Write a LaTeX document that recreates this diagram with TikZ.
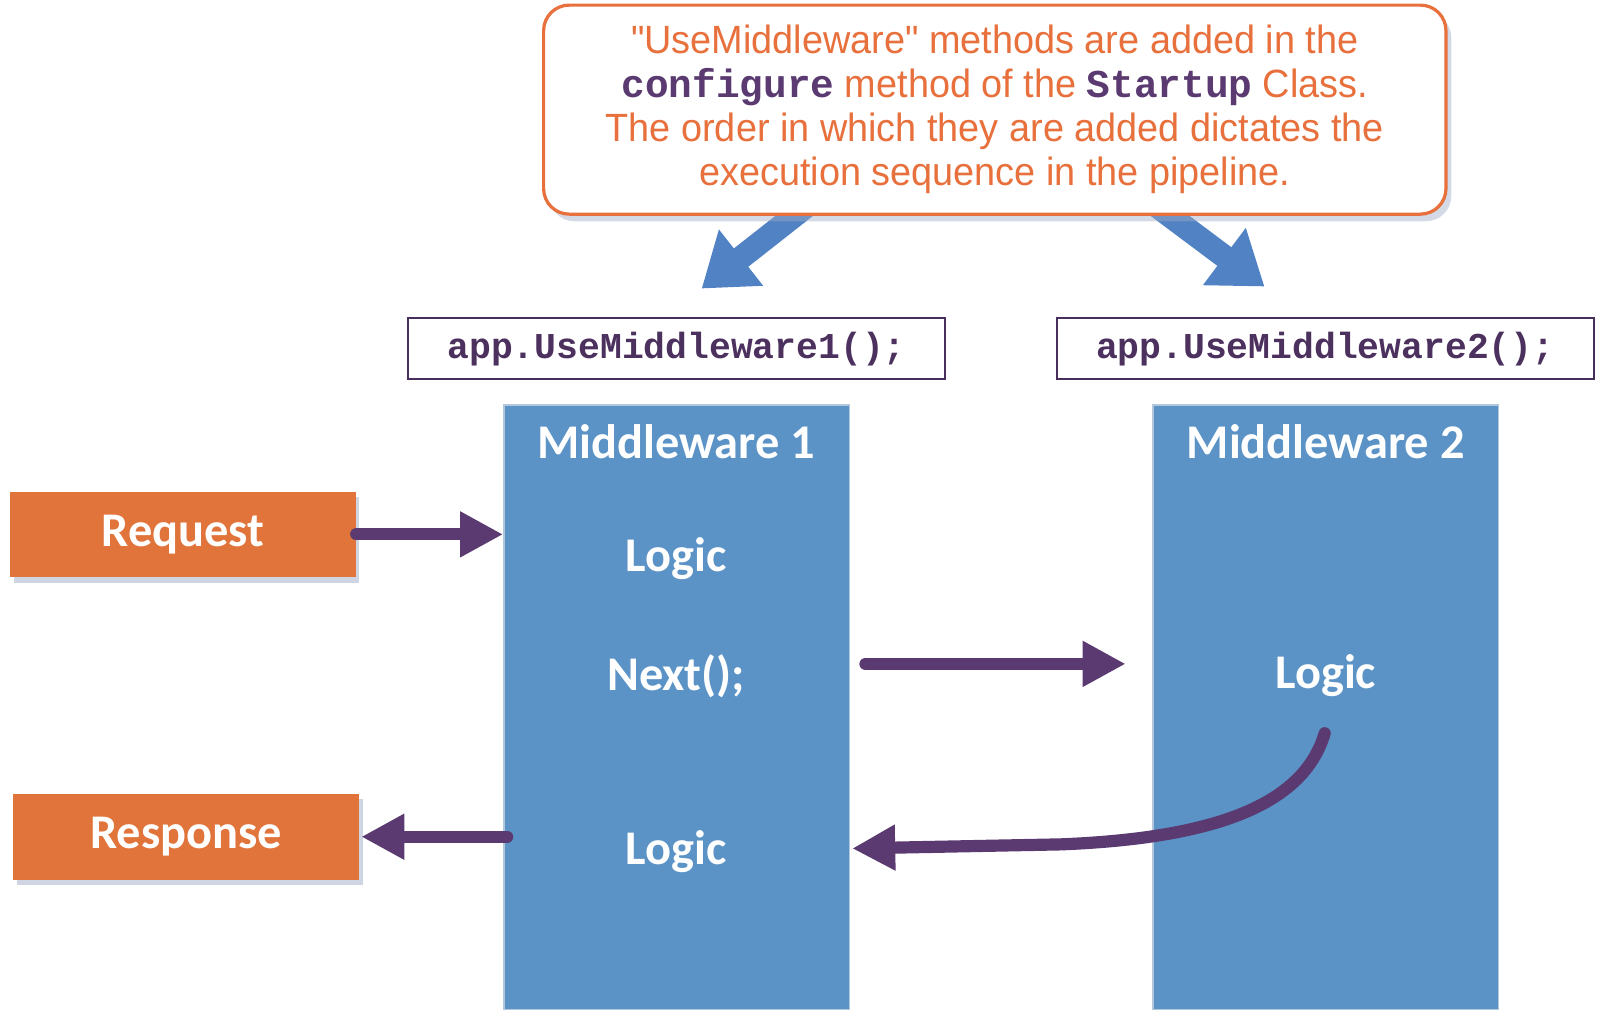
\documentclass[tikz,border=0pt]{standalone}
\usepackage{fontspec}
\usepackage{xcolor}
\usepackage{tikz}
\usetikzlibrary{arrows.meta,positioning,calc,shadows}
\setmainfont{Liberation Sans}
\newfontfamily\calibri{Carlito}
\newfontfamily\callfont[FakeStretch=0.96,Ligatures=TeXOff]{Liberation Sans}
\newfontfamily\codefont{Liberation Mono}
\definecolor{mwblue}{RGB}{91,147,198}
\definecolor{mwedge}{RGB}{178,198,220}
\definecolor{mworange}{RGB}{224,116,58}
\definecolor{mwpurple}{RGB}{90,58,112}
\definecolor{mwtext}{RGB}{232,112,60}
\definecolor{mwarrow}{RGB}{80,130,196}
\definecolor{mwshadow}{RGB}{160,172,198}

\begin{document}
\begin{tikzpicture}[x=0.02cm,y=-0.02cm,
  mwbox/.style={fill=mwblue, draw=mwedge, line width=0.8pt, minimum width=6.78cm,
    minimum height=11.86cm, inner sep=0pt},
  mwlabel/.style={text=white, font=\calibri\bfseries\fontsize{27}{30}\selectfont, yshift=-0.06cm},
  endbox/.style={fill=mworange, minimum width=6.78cm, minimum height=1.68cm, inner sep=0pt,
    text=white, font=\calibri\bfseries\fontsize{27}{30}\selectfont,
    drop shadow={shadow xshift=2pt, shadow yshift=-3pt, fill=mwshadow, opacity=0.5}},
  codebox/.style={draw=mwpurple!80!black, line width=1.1pt, minimum width=10.54cm,
    minimum height=1.2cm, inner sep=0pt, text=mwpurple!85!black,
    font=\codefont\bfseries\fontsize{20.3}{24}\selectfont},
  flow/.style={mwpurple, line width=6.8pt, line cap=round, -{Triangle[length=24pt,width=24pt]}},
  fat/.style={mwarrow, line width=13pt, -{Triangle[length=28pt,width=38pt]}},
  code/.style={font=\codefont\bfseries, text=mwpurple}]
  \useasboundingbox (0,0) rectangle (1568,1008);

  \coordinate (fromL) at (800,195);
  \coordinate (tipL) at (688,283);
  \coordinate (fromR) at (1125,195);
  \coordinate (tipR) at (1240,281);
  \draw[fat] (fromL) -- (tipL);
  \draw[fat] (fromR) -- (tipR);

  \node[draw=mwtext, line width=1.8pt, fill=white, rounded corners=0.5cm, minimum width=17.7cm,
    minimum height=4.1cm, align=center, text=mwtext,
    font=\callfont\fontsize{22}{24.5}\selectfont,
    drop shadow={shadow xshift=3pt, shadow yshift=-4pt, fill=mwshadow, opacity=0.45}]
    (callout) at (975.5,107.5)
    {"UseMiddleware" methods are added in the\\
     {\codefont\bfseries\color{mwpurple}configure} method of the
     {\codefont\bfseries\color{mwpurple}Startup} Class.\\
     The order in which they are added dictates the\\
     execution sequence in the pipeline.};

  \node[codebox] (use1) at (663.5,342) {app.UseMiddleware1();};
  \node[codebox] (use2) at (1299.5,342) {app.UseMiddleware2();};

  \node[mwbox] (mw1) at (663.5,693.5) {};
  \node[mwbox] (mw2) at (1300,693.5) {};
  \node[mwlabel] (title1) at (663,430) {Middleware 1};
  \node[mwlabel] (logicA) at (663,545) {Logic};
  \node[mwlabel] (next) at (663,660) {Next();};
  \node[mwlabel] (logicC) at (663,832) {Logic};
  \node[mwlabel] (title2) at (1300,430) {Middleware 2};
  \node[mwlabel] (logicB) at (1300,660) {Logic};

  \node[endbox] (req) at (179.5,524) {Request};
  \node[endbox] (resp) at (182.5,820.5) {Response};

  \draw[flow] (req.east) -- (req.east -| mw1.west);
  \draw[flow] ($(next -| mw1.east)+(15,-12)$) -- ($(next -| mw2.west)+(-26,-12)$);
  \draw[flow] ($(resp.east -| mw1.west)+(4,0)$) -- ($(resp.east)+(2,0)$);
  \draw[flow] ($(logicB)+(-1,56)$) .. controls ($(logicB)+(-22,127)$) and ($(logicB)+(-110,159)$)
    .. ($(logicB)+(-260,165)$) -- ($(logicC -| mw1.east)+(2,-3)$);
\end{tikzpicture}
\end{document}
